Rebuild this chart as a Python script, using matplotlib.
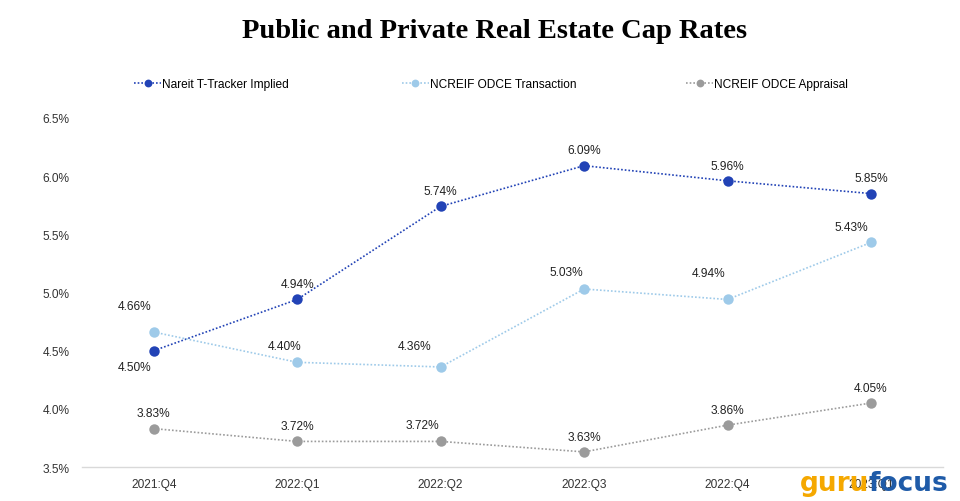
import matplotlib.pyplot as plt

quarters = ['2021:Q4', '2022:Q1', '2022:Q2', '2022:Q3', '2022:Q4', '2023:Q1']
nareit = [4.50, 4.94, 5.74, 6.09, 5.96, 5.85]
odce_transaction = [4.66, 4.40, 4.36, 5.03, 4.94, 5.43]
odce_appraisal = [3.83, 3.72, 3.72, 3.63, 3.86, 4.05]
yticks = [3.5, 4.0, 4.5, 5.0, 5.5, 6.0, 6.5]

series = [
    ('Nareit T-Tracker Implied', nareit, '#2243b6'),
    ('NCREIF ODCE Transaction', odce_transaction, '#9ecae9'),
    ('NCREIF ODCE Appraisal', odce_appraisal, '#9b9b9b'),
]

# label offsets in points (dx, dy) relative to each marker
label_offsets = [
    [(-14, -12), (0, 11), (0, 11), (0, 11), (0, 11), (0, 11)],
    [(-14, 19), (-9, 12), (-19, 15), (-13, 12), (-14, 19), (-14, 11)],
    [(0, 11), (0, 11), (-13, 12), (0, 11), (0, 11), (0, 11)],
]

plt.rcParams['font.family'] = ['Liberation Sans', 'DejaVu Sans']

fig = plt.figure(figsize=(9.6, 5.02), dpi=100)
ax = fig.add_axes([0.0854, 0.0677, 0.8966, 0.6953])

x = list(range(len(quarters)))
lines = []
for (name, vals, color), offs in zip(series, label_offsets):
    ln, = ax.plot(x, vals, linestyle=(0, (1, 1.2)), linewidth=1.2, color=color,
                  marker='o', markersize=7.5, markeredgewidth=0, label=name)
    lines.append(ln)
    for xi, v, (dx, dy) in zip(x, vals, offs):
        ax.annotate(f'{v:.2f}%', (xi, v), xytext=(dx, dy), textcoords='offset points',
                    ha='center', va='center', fontsize=8.6, color='#222222')

ax.set_xlim(-0.5, 5.5)
ax.set_ylim(3.5, 6.5)
ax.set_xticks(x)
ax.set_xticklabels(quarters)
ax.set_yticks(yticks)
ax.set_yticklabels([f'{t:.1f}%' for t in yticks])
ax.tick_params(length=0, labelsize=8.6, colors='#333333')
ax.tick_params(axis='x', pad=8)
ax.tick_params(axis='y', pad=9)
for s in ['top', 'right', 'left']:
    ax.spines[s].set_visible(False)
ax.spines['bottom'].set_color('#d9d9d9')
ax.spines['bottom'].set_linewidth(1)

fig.suptitle('Public and Private Real Estate Cap Rates', x=0.515, y=0.962,
             fontsize=20.5, fontweight='bold', family='Liberation Serif')

leg_x = [0.14, 0.419, 0.715]
for ln, lx in zip(lines, leg_x):
    fig.legend(handles=[ln], loc='center left', bbox_to_anchor=(lx, 0.83),
               frameon=False, fontsize=8.6, handlelength=2.2, handletextpad=0.1,
               markerscale=0.75, borderaxespad=0, borderpad=0)

# watermark
fig.text(0.905, 0.035, 'guru', color='#f5a800', fontsize=19, fontweight='bold',
         ha='right', va='center', family='DejaVu Sans')
fig.text(0.905, 0.035, 'focus', color='#1f5ba8', fontsize=19, fontweight='bold',
         ha='left', va='center', family='DejaVu Sans')

fig.savefig('out.png', dpi=100)
